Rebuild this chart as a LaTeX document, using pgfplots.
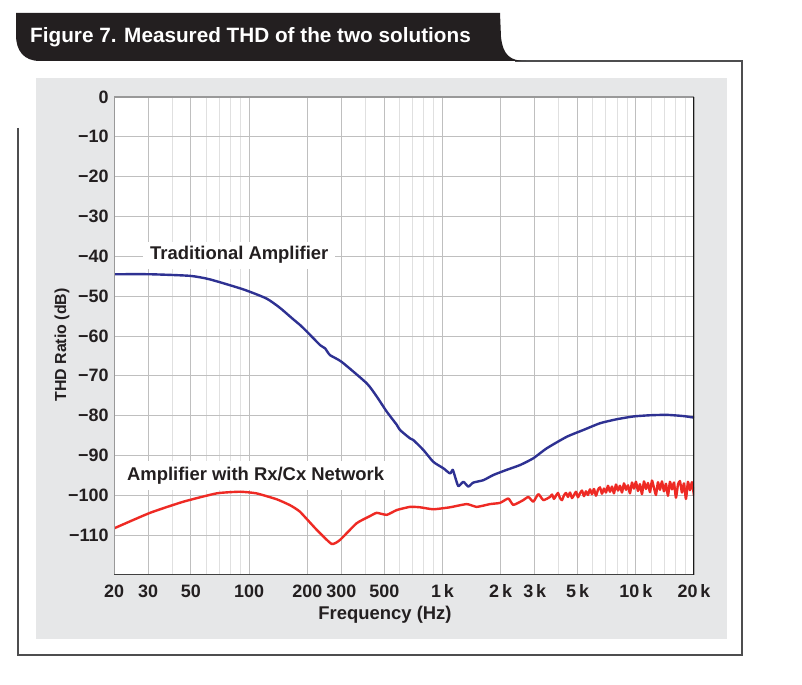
\documentclass[border=0pt]{standalone}
\usepackage{pgfplots}
\pgfplotsset{compat=1.18}
\usepackage{fontspec}
\setmainfont{Liberation Sans}
\definecolor{panelgray}{HTML}{E6E7E8}
\definecolor{framegray}{HTML}{4D4D4F}
\definecolor{bannerblack}{HTML}{231F20}
\definecolor{thdblue}{HTML}{2E3192}
\definecolor{thdred}{HTML}{EE2A24}
\definecolor{textdark}{HTML}{231F20}
\begin{document}
\begin{tikzpicture}[x=1bp,y=1bp]
\path[use as bounding box] (0,0) rectangle (802,685);
\fill[white] (0,0) rectangle (802,685);
\fill[panelgray] (36,46) rectangle (727,607);
\draw[framegray, line width=1.5bp] (18,557) -- (18,30) -- (742,30) -- (742,624) -- (515,624);
\fill[bannerblack] (16,672) -- (500,672) -- (501,648) .. controls (503,630) and (510,624) .. (526,624) -- (40,624) .. controls (24,624) and (16,634) .. (16,650) -- cycle;
\node[anchor=base west, inner sep=0pt, text=white, font=\fontsize{20.8}{24}\selectfont\bfseries] at (30,642) {Figure 7. Measured THD of the two solutions};
\node[rotate=90, anchor=center, inner sep=0pt, text=textdark, font=\fontsize{16}{19}\selectfont\bfseries] at (62,340) {THD Ratio (dB)};
\node[anchor=base, inner sep=0pt, text=textdark, font=\fontsize{18.5}{22}\selectfont\bfseries] at (385,65) {Frequency (Hz)};
\begin{axis}[
  at={(114bp,110bp)}, anchor=south west,
  scale only axis, width=580bp, height=478bp,
  xmode=log, xmin=20, xmax=20000, ymin=-120, ymax=0,
  axis background/.style={fill=white},
  axis line style={draw=none},
  xtick={20,30,50,100,200,300,500,1000,2000,3000,5000,10000,20000},
  xticklabels={20,30,50,100,200,300,500,1\,k,2\,k,3\,k,5\,k,10\,k,20\,k},
  minor xtick={40,60,70,80,90,400,600,700,800,900,4000,6000,7000,8000,9000,12000,14000,16000,18000},
  ytick={-110,-100,-90,-80,-70,-60,-50,-40,-30,-20,-10,0},
  yticklabels={−110,−100,−90,−80,−70,−60,−50,−40,−30,−20,−10,0},
  major tick length=0pt, minor tick length=0pt,
  grid=both,
  major grid style={draw=black!25, line width=0.9bp},
  minor grid style={draw=black!12, line width=0.9bp},
  ticklabel style={text=textdark, font=\fontsize{18}{21}\selectfont\bfseries},
  yticklabel style={xshift=-2bp},
  xticklabel style={yshift=-6bp},
  clip=true,
]
\node[fill=white, anchor=base west, inner xsep=7bp, inner ysep=5bp, text=textdark, font=\fontsize{18.5}{22}\selectfont\bfseries] at (axis cs:28.25,-40.9) {Traditional Amplifier};
\node[fill=white, anchor=base west, inner xsep=6bp, inner ysep=6bp, text=textdark, font=\fontsize{18.5}{22}\selectfont\bfseries] at (axis cs:21.7,-96.2) {Amplifier with Rx/Cx Network};
\addplot[thdblue, line width=2.4bp, line join=round, smooth, tension=0.35] coordinates {
(20,-44.5) (30.7,-44.5) (49.4,-44.9) (62.8,-45.8) (93.3,-48.3) (123,-50.6) (144,-52.9) (169,-55.8) (183,-57.2) (199,-58.9) (233,-62.3) (247,-63.1) (262,-64.8) (301,-66.5) (406,-71.9) (457,-75.2) (515,-79.0) (580,-82.3) (603,-83.6) (679,-85.7) (706,-86.1) (796,-88.6) (897,-91.6) (1010,-93.2) (1094,-94.5) (1130,-93.6) (1161,-95.3) (1208,-97.7) (1282,-96.6) (1360,-97.8) (1444,-96.8) (1627,-96.2) (1832,-94.9) (2150,-93.6) (2518,-92.4) (2950,-90.7) (3460,-88.2) (4392,-85.3) (5353,-83.6) (6531,-81.9) (7969,-80.9) (9712,-80.2) (11842,-79.9) (14450,-79.8) (17612,-80.1) (20000,-80.5)
};
\addplot[thdred, line width=2.4bp, line join=round, smooth, tension=0.3] coordinates {
(20,-108.3) (30.7,-104.4) (45.7,-101.6) (68,-99.5) (89.7,-99.1) (109,-99.5) (139,-101.0) (163,-102.5) (183,-104.1) (224,-108.7) (267,-112.2) (295,-111.2) (360,-107.0) (422,-105.2) (457,-104.4) (515,-104.9) (580,-103.7) (679,-102.9) (765,-103.0) (897,-103.5) (1094,-103.0) (1335,-102.2) (1503,-102.9) (1762,-102.2) (1984,-101.9) (2190,-100.8) (2325,-102.4) (2618,-101.2) (2780,-100.4) (2950,-101.6) (3132,-99.7) (3325,-101.2)
(3600,-100.4) (3687,-99.8) (3774,-100.9) (3865,-100.1) (3958,-99.4) (4054,-100.7) (4151,-101.2) (4251,-100.0) (4354,-99.4) (4459,-100.4) (4566,-99.3) (4676,-100.7) (4789,-99.9) (4904,-99.1) (5022,-100.5) (5143,-99.5) (5267,-98.8) (5394,-100.2) (5524,-99.0) (5657,-99.9) (5793,-98.5) (5933,-99.7) (6076,-98.4) (6222,-100.1) (6372,-98.6) (6526,-98.0) (6683,-99.6) (6844,-98.3) (7009,-99.3) (7178,-97.6) (7351,-99.1) (7528,-97.8) (7709,-99.5) (7895,-97.3) (8085,-98.8) (8280,-97.6) (8480,-99.3) (8684,-97.0) (8893,-98.6) (9108,-97.5) (9327,-99.5) (9552,-96.8) (9782,-98.3) (10018,-96.6) (10259,-98.9) (10506,-97.2) (10760,-99.7) (11019,-96.5) (11285,-98.4) (11557,-96.9) (11835,-99.2) (12120,-96.3) (12412,-98.1) (12711,-99.9) (13018,-96.7) (13331,-98.6) (13653,-96.5) (13982,-99.0) (14319,-97.1) (14664,-100.1) (15017,-96.6) (15379,-98.5) (15750,-96.8) (16129,-100.6) (16518,-97.3) (16916,-96.4) (17323,-99.3) (17741,-97.0) (18168,-100.9) (18606,-96.6) (19054,-98.7) (19513,-96.7) (20000,-100.1)
};
\draw[black!40, line width=1.2bp] (rel axis cs:0,0) -- (rel axis cs:0,1) -- (rel axis cs:1,1);
\draw[black!75, line width=1.2bp] (rel axis cs:0,0) -- (rel axis cs:1,0);
\draw[black!90, line width=1.2bp] (rel axis cs:1,0) -- (rel axis cs:1,1);
\end{axis}
\end{tikzpicture}
\end{document}
